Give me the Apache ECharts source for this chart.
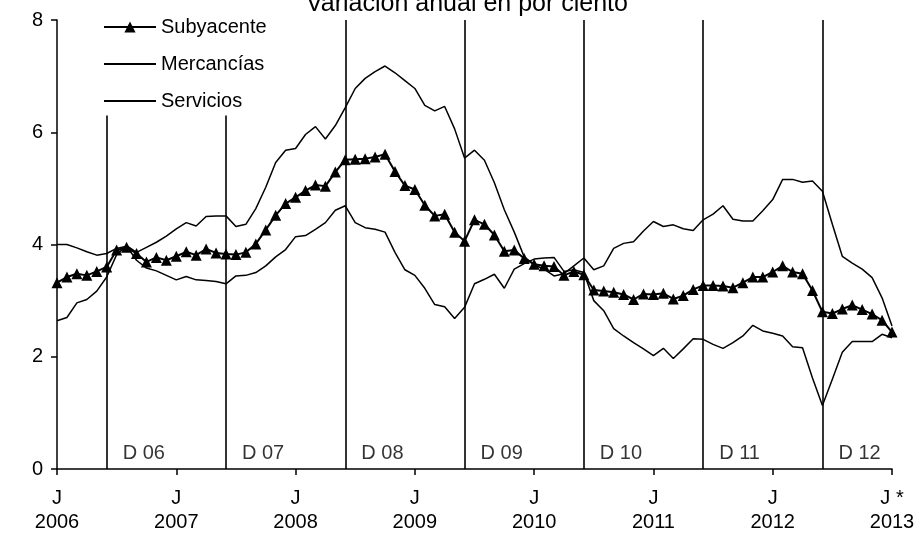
<!DOCTYPE html>
<html>
<head>
<meta charset="utf-8">
<script src="https://cdn.jsdelivr.net/npm/echarts@6/dist/echarts.min.js"></script>
<style>
  html, body {margin: 0; padding: 0; background: #fff;}
  #main {width: 922px; height: 534px;}
</style>
</head>
<body>
<div id="main"></div>
<script>
// monthly, July 2006 .. July 2013
var monthNames = ['Jul', 'Ago', 'Sep', 'Oct', 'Nov', 'Dic', 'Ene', 'Feb', 'Mar', 'Abr', 'May', 'Jun'];
var months = [];
for (var i = 0; i < 85; i++) {
    months.push(monthNames[i % 12] + ' ' + (2006 + Math.floor((i + 6) / 12)));
}
var xTickLabels = ['J\n2006', 'J\n2007', 'J\n2008', 'J\n2009', 'J\n2010', 'J\n2011', 'J\n2012', 'J *\n2013'];

var subyacente = [
    3.32, 3.42, 3.48, 3.45, 3.52, 3.60, 3.90, 3.95, 3.84, 3.69, 3.77, 3.72,
    3.79, 3.87, 3.81, 3.92, 3.85, 3.83, 3.82, 3.86, 4.01, 4.26, 4.52, 4.73,
    4.84, 4.96, 5.06, 5.04, 5.29, 5.51, 5.52, 5.53, 5.56, 5.61, 5.30, 5.05,
    4.98, 4.70, 4.51, 4.54, 4.22, 4.06, 4.44, 4.36, 4.17, 3.88, 3.90, 3.75,
    3.65, 3.62, 3.61, 3.45, 3.52, 3.46, 3.19, 3.17, 3.15, 3.11, 3.02, 3.12,
    3.11, 3.13, 3.03, 3.09, 3.20, 3.27, 3.27, 3.26, 3.23, 3.32, 3.42, 3.42,
    3.51, 3.62, 3.51, 3.48, 3.18, 2.80, 2.77, 2.85, 2.92, 2.84, 2.76, 2.65,
    2.44
];
var mercancias = [
    2.64, 2.70, 2.96, 3.02, 3.17, 3.42, 3.82, 3.98, 3.86, 3.95, 4.04, 4.15,
    4.28, 4.39, 4.33, 4.50, 4.51, 4.51, 4.32, 4.36, 4.64, 5.02, 5.46, 5.68,
    5.71, 5.96, 6.10, 5.88, 6.12, 6.44, 6.78, 6.96, 7.08, 7.18, 7.06, 6.92,
    6.78, 6.48, 6.38, 6.46, 6.06, 5.54, 5.68, 5.50, 5.10, 4.62, 4.22, 3.78,
    3.64, 3.56, 3.44, 3.48, 3.62, 3.76, 3.55, 3.62, 3.93, 4.02, 4.05, 4.24,
    4.41, 4.32, 4.35, 4.28, 4.25, 4.44, 4.54, 4.69, 4.45, 4.42, 4.42, 4.60,
    4.80, 5.16, 5.16, 5.11, 5.13, 4.95, 4.36, 3.79, 3.67, 3.56, 3.41, 3.05,
    2.55
];
var servicios = [
    4.00, 4.00, 3.94, 3.87, 3.81, 3.84, 3.93, 3.97, 3.72, 3.58, 3.53, 3.45,
    3.37, 3.43, 3.37, 3.36, 3.34, 3.30, 3.44, 3.45, 3.50, 3.62, 3.78, 3.91,
    4.14, 4.16, 4.27, 4.39, 4.61, 4.69, 4.39, 4.30, 4.27, 4.22, 3.86, 3.55,
    3.45, 3.22, 2.93, 2.89, 2.68, 2.88, 3.30, 3.38, 3.47, 3.22, 3.56, 3.66,
    3.74, 3.76, 3.77, 3.52, 3.55, 3.50, 3.00, 2.82, 2.50, 2.37, 2.25, 2.14,
    2.02, 2.15, 1.97, 2.14, 2.32, 2.31, 2.22, 2.15, 2.25, 2.37, 2.56, 2.46,
    2.42, 2.37, 2.18, 2.16, 1.62, 1.13, 1.60, 2.08, 2.27, 2.27, 2.27, 2.40,
    2.34
];

// December marks
var decIndex = [5, 17, 29, 41, 53, 65, 77];
var decLabels = ['D 06', 'D 07', 'D 08', 'D 09', 'D 10', 'D 11', 'D 12'];
var decTops = [6.3, 6.3, 8, 8, 8, 8, 8];

var font = 'Liberation Sans, Arial, sans-serif';

var chart = echarts.init(document.getElementById('main'));
chart.setOption({
    animation: false,
    backgroundColor: '#fff',
    title: {
        text: 'Variación anual en por ciento',
        left: 306, top: -8, padding: 0,
        textStyle: {fontSize: 25, fontWeight: 'normal', color: '#000', fontFamily: font}
    },
    legend: {
        orient: 'vertical', left: 103, top: 17, padding: 0,
        itemWidth: 52, itemHeight: 14, itemGap: 17,
        textStyle: {fontSize: 20, color: '#000', fontFamily: font},
        data: [
            {name: 'Subyacente'},
            {name: 'Mercancías', itemStyle: {opacity: 0}},
            {name: 'Servicios', itemStyle: {opacity: 0}}
        ]
    },
    grid: {left: 57, right: 30, top: 20, bottom: 64},
    xAxis: {
        type: 'category', data: months, boundaryGap: false,
        axisLine: {lineStyle: {color: '#000', width: 1.5}},
        axisTick: {interval: 11, length: 6, lineStyle: {color: '#000', width: 1.5}},
        axisLabel: {
            interval: 11, margin: 17, lineHeight: 24,
            fontSize: 20, color: '#000', fontFamily: font,
            formatter: function (v, idx) { return xTickLabels[idx / 12]; }
        },
        splitLine: {show: false}
    },
    yAxis: {
        type: 'value', min: 0, max: 8, interval: 2,
        axisLine: {show: true, lineStyle: {color: '#000', width: 1.5}},
        axisTick: {show: true, length: 6, lineStyle: {color: '#000', width: 1.5}},
        axisLabel: {margin: 14, fontSize: 20, color: '#000', fontFamily: font},
        splitLine: {show: false}
    },
    series: [
        {
            name: 'Mercancías', type: 'line', data: mercancias,
            symbol: 'none', lineStyle: {color: '#000', width: 1.5}, itemStyle: {color: '#000'},
            markLine: {
                silent: true, symbol: ['none', 'none'], label: {show: false},
                lineStyle: {color: '#000', width: 1.6, type: 'solid'},
                data: decIndex.map(function (d, k) {
                    return [{coord: [d, 0]}, {coord: [d, decTops[k]]}];
                })
            }
        },
        {
            name: 'Servicios', type: 'line', data: servicios,
            symbol: 'none', lineStyle: {color: '#000', width: 1.5}, itemStyle: {color: '#000'}
        },
        {
            name: 'Subyacente', type: 'line', data: subyacente, z: 5,
            symbol: 'triangle', symbolSize: 11, showSymbol: true, showAllSymbol: true,
            lineStyle: {color: '#000', width: 2}, itemStyle: {color: '#000'}
        },
        {
            name: 'decLabels', type: 'scatter', symbolSize: 0, silent: true,
            data: decIndex.map(function (d) { return [d, 0.27]; }),
            label: {
                show: true, position: 'right', distance: 16,
                fontSize: 20, color: '#000', fontFamily: font,
                formatter: function (p) { return decLabels[p.dataIndex]; }
            }
        }
    ]
});
</script>
</body>
</html>
